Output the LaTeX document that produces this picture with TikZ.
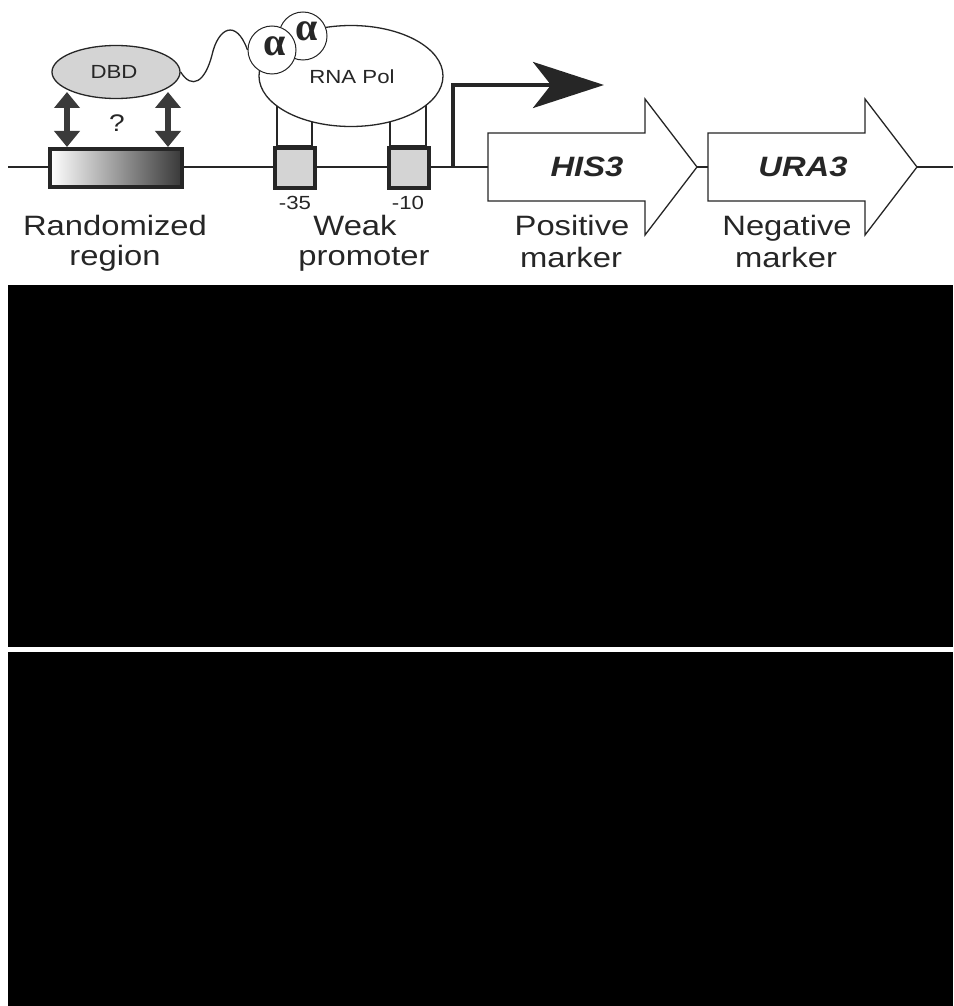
\documentclass[tikz,border=0pt]{standalone}
\usepackage{fontspec}
\usepackage{graphicx}
\setmainfont{Liberation Sans}
\newfontfamily\greekfont{Liberation Serif}
\usetikzlibrary{shapes.geometric,arrows.meta}
\definecolor{ink}{HTML}{262626}
\definecolor{boxgray}{HTML}{D4D4D4}
\definecolor{arrgray}{HTML}{3A3A3A}
\newcommand\wtext[1]{\scalebox{1.17}[1]{#1}}
\tikzset{
  thinline/.style={draw=ink, line width=1.3pt},
  thickbox/.style={draw=ink, line width=3.5pt},
  lbl/.style={font=\fontsize{28}{28}\selectfont, text=ink, anchor=base, inner sep=0pt},
  small/.style={font=\fontsize{19}{19}\selectfont, text=ink, inner sep=0pt},
  gene/.style={thinline, fill=white, line join=miter},
  dbl/.style={draw=arrgray, line width=6pt, {Triangle[width=25pt,length=16pt]}-{Triangle[width=25pt,length=16pt]}},
  tss/.style={draw=ink, line width=4.5pt, -{Stealth[length=71pt,width=46pt,inset=18pt]}},
  blackpanel/.style={fill=black, draw=none}
}
\begin{document}
\begin{tikzpicture}[x=1pt,y=-1pt]
\useasboundingbox (0,0) rectangle (953,1006);
% DNA
\coordinate (dnaL) at (8,167);
\coordinate (dnaR) at (953,167);
\draw[thinline] (dnaL) -- (dnaR);
% randomized region
\node[thickbox, left color=white, right color=black!78, minimum width=132pt, minimum height=38pt, inner sep=0pt] (rand) at (116,168) {};
% promoter boxes
\node[thickbox, fill=boxgray, minimum width=40pt, minimum height=40pt, inner sep=0pt] (m35) at (295,168) {};
\node[thickbox, fill=boxgray, minimum width=40pt, minimum height=40pt, inner sep=0pt] (m10) at (409,168) {};
% legs
\draw[thinline, fill=white] (277,100) rectangle (312,146);
\draw[thinline, fill=white] (390,100) rectangle (426,146);
% RNA Pol
\node[ellipse, thinline, fill=white, minimum width=184pt, minimum height=101pt, inner sep=0pt] (pol) at (351,76) {};
\node[small] (poltext) at (352,77) {\wtext{RNA Pol}};
% alpha subunits
\node[circle, draw=ink, line width=1pt, fill=white, minimum size=48pt, inner sep=0pt] (a2) at (303,36) {};
\node[circle, draw=ink, line width=1pt, fill=white, minimum size=48pt, inner sep=0pt] (a1) at (272,50) {};
\node[font=\greekfont\bfseries\fontsize{40}{40}\selectfont, text=ink, inner sep=0pt] (al2) at (307,31) {α};
\node[font=\greekfont\bfseries\fontsize{40}{40}\selectfont, text=ink, inner sep=0pt] (al1) at (275,46) {α};
% DBD
\node[ellipse, thinline, fill=boxgray, minimum width=128pt, minimum height=53pt, inner sep=0pt] (dbd) at (116,72) {};
\node[small] (dbdtext) at (114,72) {\wtext{DBD}};
% linker
\draw[draw=ink, line width=1.3pt] (dbd.east) .. controls (192,90) and (205,82) .. (212,55) .. controls (218,28) and (236,18) .. (a1.west);
% double arrows
\coordinate (d1t) at (67,92); \coordinate (d1b) at (67,147);
\coordinate (d2t) at (168,92); \coordinate (d2b) at (168,147);
\draw[dbl] (d1t) -- (d1b);
\draw[dbl] (d2t) -- (d2b);
\node[small, font=\fontsize{24}{24}\selectfont] (q) at (117,123) {\wtext{?}};
% transcription start
\coordinate (tss0) at (453,167);
\coordinate (tss1) at (604,85);
\draw[tss] (tss0) |- (tss1);
% gene arrows
\draw[gene] (488,133) -- (645,133) -- (645,99) -- (697,167) -- (645,235) -- (645,201) -- (488,201) -- cycle;
\draw[gene] (708,133) -- (865,133) -- (865,99) -- (917,167) -- (865,235) -- (865,201) -- (708,201) -- cycle;
\node[font=\fontsize{28}{28}\selectfont\bfseries\itshape, text=ink, inner sep=0pt] (his) at (587,167) {\wtext{HIS3}};
\node[font=\fontsize{28}{28}\selectfont\bfseries\itshape, text=ink, inner sep=0pt] (ura) at (803,167) {\wtext{URA3}};
% small labels
\node[small] (l35) at (295,203) {\wtext{-35}};
\node[small] (l10) at (408,203) {\wtext{-10}};
% labels
\node[lbl] (t1a) at (115,235) {\wtext{Randomized}};
\node[lbl] (t1b) at (115,265) {\wtext{region}};
\node[lbl] (t2a) at (355,235) {\wtext{Weak}};
\node[lbl] (t2b) at (364,265) {\wtext{promoter}};
\node[lbl] (t3a) at (572,235) {\wtext{Positive}};
\node[lbl] (t3b) at (571,267) {\wtext{marker}};
\node[lbl] (t4a) at (787,235) {\wtext{Negative}};
\node[lbl] (t4b) at (786,267) {\wtext{marker}};
% black panels
\fill[blackpanel] (8,285) rectangle (953,647);
\fill[blackpanel] (8,652) rectangle (953,1006);
\end{tikzpicture}
\end{document}
